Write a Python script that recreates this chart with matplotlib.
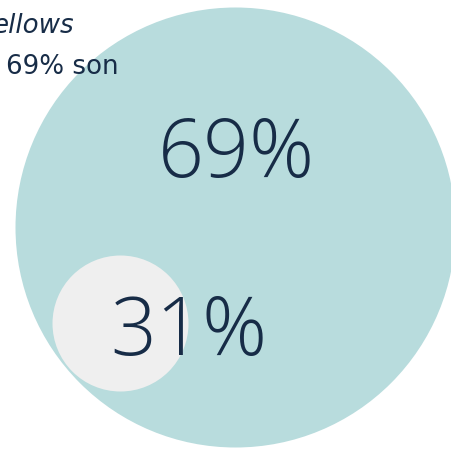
import matplotlib
matplotlib.use("Agg")
import matplotlib.pyplot as plt
from matplotlib.patches import Circle

labels = ["69%", "31%"]
values = [69, 31]
caption_lines = ["ellows", "69% son"]

TEAL = "#b8dcdd"
GRAY = "#efefef"
NAVY = "#172c47"

W, H = 451, 449
fig = plt.figure(figsize=(W / 100, H / 100), dpi=100)
ax = fig.add_axes([0, 0, 1, 1])
ax.set_xlim(0, W)
ax.set_ylim(H, 0)
ax.axis("off")

# circles: (cx, cy, r)
layout = [(235.5, 227.5, 220.0), (120.5, 323.5, 68.0)]
colors = [TEAL, GRAY]
for (cx, cy, r), c in zip(layout, colors):
    ax.add_patch(Circle((cx, cy), r, facecolor=c, edgecolor="none"))

text_pos = [(236, 177), (189, 355)]
for (tx, ty), v in zip(text_pos, values):
    ax.text(tx, ty, f"{v}%", ha="center", va="baseline", fontsize=58,
            family="Open Sans", fontweight=300, color=NAVY)

ax.text(-7, 33, caption_lines[0], ha="left", va="baseline", fontsize=18.8,
        family="DejaVu Sans", style="italic", color=NAVY)
ax.text(6, 74, caption_lines[1], ha="left", va="baseline", fontsize=18.8,
        family="DejaVu Sans", color=NAVY)

fig.savefig("out.png", dpi=100)
